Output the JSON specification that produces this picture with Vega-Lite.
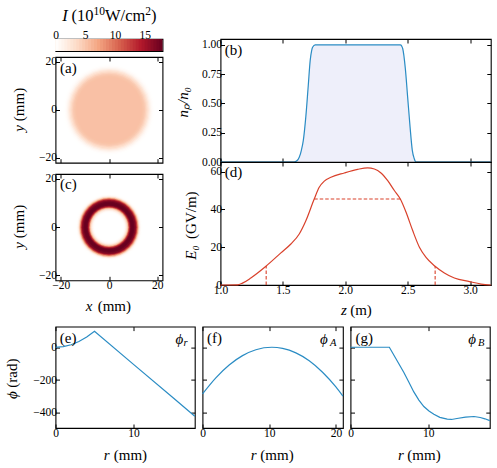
{
  "$schema": "https://vega.github.io/schema/vega-lite/v6.json",
  "background": "white",
  "padding": {"left": 3.5, "top": 4, "right": 0, "bottom": 0},
  "spacing": 6.6,
  "datasets": {
    "colorbar": [
      {"hi": 18, "I": 17.75}, {"hi": 17.5, "I": 17.25}, {"hi": 17, "I": 16.75}, {"hi": 16.5, "I": 16.25}, {"hi": 16, "I": 15.75}, {"hi": 15.5, "I": 15.25},
      {"hi": 15, "I": 14.75}, {"hi": 14.5, "I": 14.25}, {"hi": 14, "I": 13.75}, {"hi": 13.5, "I": 13.25}, {"hi": 13, "I": 12.75}, {"hi": 12.5, "I": 12.25},
      {"hi": 12, "I": 11.75}, {"hi": 11.5, "I": 11.25}, {"hi": 11, "I": 10.75}, {"hi": 10.5, "I": 10.25}, {"hi": 10, "I": 9.75}, {"hi": 9.5, "I": 9.25},
      {"hi": 9, "I": 8.75}, {"hi": 8.5, "I": 8.25}, {"hi": 8, "I": 7.75}, {"hi": 7.5, "I": 7.25}, {"hi": 7, "I": 6.75}, {"hi": 6.5, "I": 6.25},
      {"hi": 6, "I": 5.75}, {"hi": 5.5, "I": 5.25}, {"hi": 5, "I": 4.75}, {"hi": 4.5, "I": 4.25}, {"hi": 4, "I": 3.75}, {"hi": 3.5, "I": 3.25},
      {"hi": 3, "I": 2.75}, {"hi": 2.5, "I": 2.25}, {"hi": 2, "I": 1.75}, {"hi": 1.5, "I": 1.25}, {"hi": 1, "I": 0.75}, {"hi": 0.5, "I": 0.25}
    ],
    "disc": [
      {"x": 0, "y": 0, "r": 19, "I": 0.05}, {"x": 0, "y": 0, "r": 18.5, "I": 0.2}, {"x": 0, "y": 0, "r": 18, "I": 0.5}, {"x": 0, "y": 0, "r": 17.5, "I": 1}, {"x": 0, "y": 0, "r": 17, "I": 1.8},
      {"x": 0, "y": 0, "r": 16.5, "I": 2.7}, {"x": 0, "y": 0, "r": 16, "I": 3.5}, {"x": 0, "y": 0, "r": 15.5, "I": 4.2}, {"x": 0, "y": 0, "r": 15, "I": 4.8}, {"x": 0, "y": 0, "r": 14.5, "I": 5.1},
      {"x": 0, "y": 0, "r": 14, "I": 5.3}, {"x": 0, "y": 0, "r": 13.5, "I": 5.4}
    ],
    "ring": [
      {"x": 0, "y": 0, "r": 14, "I": 0.05}, {"x": 0, "y": 0, "r": 13.5, "I": 0.2}, {"x": 0, "y": 0, "r": 13.25, "I": 0.5}, {"x": 0, "y": 0, "r": 13, "I": 1}, {"x": 0, "y": 0, "r": 12.75, "I": 2.2}, {"x": 0, "y": 0, "r": 12.5, "I": 4}, {"x": 0, "y": 0, "r": 12.25, "I": 6.3},
      {"x": 0, "y": 0, "r": 12, "I": 9}, {"x": 0, "y": 0, "r": 11.75, "I": 11.6}, {"x": 0, "y": 0, "r": 11.5, "I": 14}, {"x": 0, "y": 0, "r": 11.25, "I": 15.8}, {"x": 0, "y": 0, "r": 11, "I": 17}, {"x": 0, "y": 0, "r": 10.5, "I": 17.8}, {"x": 0, "y": 0, "r": 10, "I": 18},
      {"x": 0, "y": 0, "r": 9.5, "I": 17.8}, {"x": 0, "y": 0, "r": 9, "I": 16.8}, {"x": 0, "y": 0, "r": 8.75, "I": 15}, {"x": 0, "y": 0, "r": 8.5, "I": 13}, {"x": 0, "y": 0, "r": 8.25, "I": 10}, {"x": 0, "y": 0, "r": 8, "I": 6.5}, {"x": 0, "y": 0, "r": 7.75, "I": 4.5},
      {"x": 0, "y": 0, "r": 7.5, "I": 3}, {"x": 0, "y": 0, "r": 7.25, "I": 2}, {"x": 0, "y": 0, "r": 7, "I": 1.2}, {"x": 0, "y": 0, "r": 6.75, "I": 0.6}, {"x": 0, "y": 0, "r": 6.5, "I": 0.3}, {"x": 0, "y": 0, "r": 6.25, "I": 0.1}, {"x": 0, "y": 0, "r": 6, "I": 0}
    ],
    "plasma": [
      {"z": 1.0, "n": 0}, {"z": 1.59, "n": 0}, {"z": 1.612, "n": 0.01}, {"z": 1.631, "n": 0.04}, {"z": 1.648, "n": 0.1}, {"z": 1.663, "n": 0.18}, {"z": 1.684, "n": 0.39},
      {"z": 1.703, "n": 0.65}, {"z": 1.719, "n": 0.87}, {"z": 1.73, "n": 0.95}, {"z": 1.738, "n": 0.98}, {"z": 1.759, "n": 1}, {"z": 2.441, "n": 1}, {"z": 2.452, "n": 0.99},
      {"z": 2.46, "n": 0.97}, {"z": 2.481, "n": 0.8}, {"z": 2.5, "n": 0.55}, {"z": 2.519, "n": 0.3}, {"z": 2.537, "n": 0.1}, {"z": 2.552, "n": 0.03}, {"z": 2.567, "n": 0}, {"z": 3.166, "n": 0}
    ],
    "field": [
      {"z": 1.0, "E": 0}, {"z": 1.136, "E": 0.1}, {"z": 1.176, "E": 1}, {"z": 1.243, "E": 3.7}, {"z": 1.364, "E": 9.9}, {"z": 1.484, "E": 17}, {"z": 1.564, "E": 21.7},
      {"z": 1.631, "E": 27}, {"z": 1.684, "E": 34}, {"z": 1.751, "E": 45.5}, {"z": 1.791, "E": 51.7}, {"z": 1.832, "E": 55}, {"z": 1.885, "E": 57}, {"z": 1.992, "E": 59.3},
      {"z": 2.099, "E": 61.2}, {"z": 2.179, "E": 62}, {"z": 2.233, "E": 61.4}, {"z": 2.286, "E": 59.3}, {"z": 2.34, "E": 55.2}, {"z": 2.393, "E": 50}, {"z": 2.441, "E": 45.5},
      {"z": 2.487, "E": 38.5}, {"z": 2.54, "E": 28.8}, {"z": 2.594, "E": 20}, {"z": 2.647, "E": 14.6}, {"z": 2.714, "E": 10.2}, {"z": 2.794, "E": 6.4}, {"z": 2.874, "E": 3.7},
      {"z": 2.995, "E": 1.8}, {"z": 3.088, "E": 0.5}, {"z": 3.166, "E": 0}
    ],
    "guides": [
      {"z": 1.751, "z2": 2.441, "E": 45.5, "E2": 45.5},
      {"z": 1.366, "z2": 1.366, "E": 0, "E2": 10},
      {"z": 2.72, "z2": 2.72, "E": 0, "E2": 10}
    ],
    "phiR": [
      {"r": 0, "phi": 0}, {"r": 1, "phi": 4}, {"r": 2, "phi": 15.5}, {"r": 3, "phi": 35}, {"r": 4, "phi": 62}, {"r": 5, "phi": 97}, {"r": 10, "phi": -104}, {"r": 15, "phi": -305}, {"r": 17.86, "phi": -420}
    ],
    "phiA": [
      {"r": 0, "phi": -284}, {"r": 2, "phi": -186}, {"r": 4, "phi": -108}, {"r": 6, "phi": -51}, {"r": 8, "phi": -15}, {"r": 10.4, "phi": 0}, {"r": 12, "phi": -7},
      {"r": 14, "phi": -34}, {"r": 16, "phi": -82}, {"r": 18, "phi": -152}, {"r": 20, "phi": -242}, {"r": 21.05, "phi": -298}
    ],
    "phiB": [
      {"r": 0, "phi": 0}, {"r": 5, "phi": 0}, {"r": 6, "phi": -82}, {"r": 6.87, "phi": -154}, {"r": 7.5, "phi": -212}, {"r": 8.15, "phi": -272}, {"r": 8.8, "phi": -322},
      {"r": 9.44, "phi": -361}, {"r": 10.1, "phi": -388}, {"r": 10.73, "phi": -408}, {"r": 11.5, "phi": -427}, {"r": 12.45, "phi": -438}, {"r": 13, "phi": -440},
      {"r": 13.7, "phi": -434}, {"r": 14.8, "phi": -426}, {"r": 15.9, "phi": -422}, {"r": 16.7, "phi": -428}, {"r": 17.3, "phi": -436}, {"r": 17.93, "phi": -447}
    ]
  },
  "vconcat": [
    {
      "spacing": 10,
      "hconcat": [
        {
          "spacing": 3,
          "vconcat": [
            {
              "width": 107,
              "height": 12,
              "resolve": {"axis": {"x": "independent", "y": "independent"}},
              "layer": [
                {
                  "data": {"name": "colorbar"},
                  "mark": {"type": "rect"},
                  "encoding": {
                    "x": {"field": "hi", "type": "quantitative", "scale": {"domain": [0, 18]},
                      "axis": {"orient": "top", "values": [0, 5, 10, 15], "labelPadding": 3, "title": null}},
                    "x2": {"datum": 0},
                    "y": {"datum": 0, "type": "quantitative", "scale": {"domain": [0, 1]}, "axis": null},
                    "y2": {"datum": 1},
                    "color": {"field": "I", "type": "quantitative", "legend": null,
                      "scale": {"interpolate": "rgb", "domain": [0, 3.6, 7.2, 10.8, 14.4, 18], "range": ["#ffffff", "#fddbc7", "#f4a582", "#d6604d", "#b2182b", "#67001f"]}}
                  }
                },
                {
                  "data": {"values": [{"x": 1.14, "y": 2.92, "label": "I"}]},
                  "mark": {"type": "text", "align": "left", "baseline": "middle", "font": "Liberation Serif", "fontStyle": "italic", "fontSize": 16.5},
                  "encoding": {
                    "x": {"field": "x", "type": "quantitative", "scale": {"domain": [0, 18]}, "axis": null},
                    "y": {"field": "y", "type": "quantitative", "scale": {"domain": [0, 1]}, "axis": null},
                    "text": {"field": "label"}
                  }
                },
                {
                  "data": {"values": [{"x": 2.69, "y": 2.92, "label": "(10"}, {"x": 8.33, "y": 2.92, "label": "W/cm"}, {"x": 16.07, "y": 2.92, "label": ")"}]},
                  "mark": {"type": "text", "align": "left", "baseline": "middle", "font": "Liberation Serif", "fontSize": 16.5},
                  "encoding": {
                    "x": {"field": "x", "type": "quantitative", "scale": {"domain": [0, 18]}, "axis": null},
                    "y": {"field": "y", "type": "quantitative", "scale": {"domain": [0, 1]}, "axis": null},
                    "text": {"field": "label"}
                  }
                },
                {
                  "data": {"values": [{"x": 6.39, "y": 3.29, "label": "10"}, {"x": 15.1, "y": 3.29, "label": "2"}]},
                  "mark": {"type": "text", "align": "left", "baseline": "middle", "font": "Liberation Serif", "fontSize": 11.5},
                  "encoding": {
                    "x": {"field": "x", "type": "quantitative", "scale": {"domain": [0, 18]}, "axis": null},
                    "y": {"field": "y", "type": "quantitative", "scale": {"domain": [0, 1]}, "axis": null},
                    "text": {"field": "label"}
                  }
                }
              ]
            },
            {
              "bounds": "flush",
              "spacing": 11,
              "vconcat": [
                {
                  "width": 107,
                  "height": 105.7,
                  "resolve": {"axis": {"x": "independent", "y": "independent"}},
                  "layer": [
                    {
                      "data": {"name": "disc"},
                      "mark": {"type": "point", "shape": "circle", "filled": true, "opacity": 1, "strokeWidth": 0},
                      "encoding": {
                        "x": {"field": "x", "type": "quantitative", "scale": {"domain": [-22.2, 22.2]}, "axis": {"values": [-20, 0, 20], "labels": false, "title": null}},
                        "y": {"field": "y", "type": "quantitative", "scale": {"domain": [-22, 22]}, "axis": {"values": [-20, 0, 20], "title": "(mm)", "titleX": -36.7, "titleY": 47}},
                        "size": {"field": "r", "type": "quantitative", "legend": null, "scale": {"type": "pow", "exponent": 2, "domain": [0, 22], "range": [0, 11236]}},
                        "color": {"field": "I", "type": "quantitative", "legend": null,
                          "scale": {"interpolate": "rgb", "domain": [0, 3.6, 7.2, 10.8, 14.4, 18], "range": ["#ffffff", "#fddbc7", "#f4a582", "#d6604d", "#b2182b", "#67001f"]}}
                      }
                    },
                    {
                      "data": {"values": [{"x": -20.3, "y": 17.5, "label": "(a)"}]},
                      "mark": {"type": "text", "align": "left", "baseline": "middle", "font": "Liberation Serif", "fontSize": 15},
                      "encoding": {
                        "x": {"field": "x", "type": "quantitative", "scale": {"domain": [-22.2, 22.2]}, "axis": {"orient": "top", "values": [-20, 0, 20], "labels": false, "title": null}},
                        "y": {"field": "y", "type": "quantitative", "scale": {"domain": [-22, 22]},
                          "axis": {"orient": "right", "values": [-20, 0, 20], "labels": false, "title": "y", "titleFontStyle": "italic", "titleX": -143.7, "titleY": 71}},
                        "text": {"field": "label"}
                      }
                    }
                  ]
                },
                {
                  "width": 107,
                  "height": 106.3,
                  "resolve": {"axis": {"x": "independent", "y": "independent"}},
                  "layer": [
                    {
                      "data": {"name": "ring"},
                      "mark": {"type": "point", "shape": "circle", "filled": true, "opacity": 1, "strokeWidth": 0},
                      "encoding": {
                        "x": {"field": "x", "type": "quantitative", "scale": {"domain": [-22.2, 22.2]}, "axis": {"values": [-20, 0, 20], "title": "(mm)", "titleX": 58.3, "titleY": 25}},
                        "y": {"field": "y", "type": "quantitative", "scale": {"domain": [-22, 22]}, "axis": {"values": [-20, 0, 20], "title": "(mm)", "titleX": -36.7, "titleY": 47}},
                        "size": {"field": "r", "type": "quantitative", "legend": null, "scale": {"type": "pow", "exponent": 2, "domain": [0, 22], "range": [0, 11236]}},
                        "color": {"field": "I", "type": "quantitative", "legend": null,
                          "scale": {"interpolate": "rgb", "domain": [0, 3.6, 7.2, 10.8, 14.4, 18], "range": ["#ffffff", "#fddbc7", "#f4a582", "#d6604d", "#b2182b", "#67001f"]}}
                      }
                    },
                    {
                      "data": {"values": [{"x": -20.3, "y": 17.7, "label": "(c)"}]},
                      "mark": {"type": "text", "align": "left", "baseline": "middle", "font": "Liberation Serif", "fontSize": 15},
                      "encoding": {
                        "x": {"field": "x", "type": "quantitative", "scale": {"domain": [-22.2, 22.2]},
                          "axis": {"orient": "top", "values": [-20, 0, 20], "labels": false, "title": "x", "titleFontStyle": "italic", "titleX": 33, "titleY": 131}},
                        "y": {"field": "y", "type": "quantitative", "scale": {"domain": [-22, 22]},
                          "axis": {"orient": "right", "values": [-20, 0, 20], "labels": false, "title": "y", "titleFontStyle": "italic", "titleX": -143.7, "titleY": 71}},
                        "text": {"field": "label"}
                      }
                    }
                  ]
                }
              ]
            }
          ]
        },
        {
          "bounds": "flush",
          "spacing": 0,
          "vconcat": [
            {
              "width": 270.3,
              "height": 123,
              "resolve": {"axis": {"x": "independent", "y": "independent"}},
              "layer": [
                {
                  "data": {"name": "plasma"},
                  "mark": {"type": "area", "color": "#eeeffa"},
                  "encoding": {
                    "x": {"field": "z", "type": "quantitative", "scale": {"domain": [1, 3.166]}, "axis": {"values": [1, 1.5, 2, 2.5, 3], "labels": false, "title": null}},
                    "y": {"field": "n", "type": "quantitative", "scale": {"domain": [0, 1.051]}, "axis": {"values": [0, 0.25, 0.5, 0.75, 1], "format": ".2f", "title": "nₚ/n₀", "titleFontStyle": "italic", "titleX": -38, "titleY": 62.7}}
                  }
                },
                {
                  "data": {"name": "plasma"},
                  "mark": {"type": "line", "color": "#2a8cc4", "strokeWidth": 1.2, "interpolate": "monotone"},
                  "encoding": {
                    "x": {"field": "z", "type": "quantitative", "scale": {"domain": [1, 3.166]}, "axis": null},
                    "y": {"field": "n", "type": "quantitative", "scale": {"domain": [0, 1.051]}, "axis": null}
                  }
                },
                {
                  "data": {"values": [{"x": 1.035, "y": 0.957, "label": "(b)"}]},
                  "mark": {"type": "text", "align": "left", "baseline": "middle", "font": "Liberation Serif", "fontSize": 15},
                  "encoding": {
                    "x": {"field": "x", "type": "quantitative", "scale": {"domain": [1, 3.166]}, "axis": {"orient": "top", "values": [1, 1.5, 2, 2.5, 3], "labels": false, "title": null}},
                    "y": {"field": "y", "type": "quantitative", "scale": {"domain": [0, 1.051]}, "axis": {"orient": "right", "values": [0, 0.25, 0.5, 0.75, 1], "labels": false, "title": null}},
                    "text": {"field": "label"}
                  }
                }
              ]
            },
            {
              "width": 270.3,
              "height": 123,
              "resolve": {"axis": {"x": "independent", "y": "independent"}},
              "layer": [
                {
                  "data": {"name": "field"},
                  "mark": {"type": "line", "color": "#d9412b", "strokeWidth": 1.2, "interpolate": "monotone"},
                  "encoding": {
                    "x": {"field": "z", "type": "quantitative", "scale": {"domain": [1, 3.166]}, "axis": {"values": [1, 1.5, 2, 2.5, 3], "format": ".1f", "title": "(m)", "titleX": 140, "titleY": 24}},
                    "y": {"field": "E", "type": "quantitative", "scale": {"domain": [0, 65.1]}, "axis": {"values": [0, 20, 40, 60], "title": "(GV/m)", "titleX": -30, "titleY": 52.7}}
                  }
                },
                {
                  "data": {"name": "guides"},
                  "mark": {"type": "rule", "color": "#d9412b", "strokeWidth": 1.1, "strokeDash": [3.5, 2]},
                  "encoding": {
                    "x": {"field": "z", "type": "quantitative", "scale": {"domain": [1, 3.166]}, "axis": null},
                    "x2": {"field": "z2"},
                    "y": {"field": "E", "type": "quantitative", "scale": {"domain": [0, 65.1]}, "axis": null},
                    "y2": {"field": "E2"}
                  }
                },
                {
                  "data": {"values": [{"x": 1.035, "y": 59.6, "label": "(d)"}]},
                  "mark": {"type": "text", "align": "left", "baseline": "middle", "font": "Liberation Serif", "fontSize": 15},
                  "encoding": {
                    "x": {"field": "x", "type": "quantitative", "scale": {"domain": [1, 3.166]},
                      "axis": {"orient": "top", "values": [1, 1.5, 2, 2.5, 3], "labels": false, "title": "z", "titleFontStyle": "italic", "titleX": 123, "titleY": 147}},
                    "y": {"field": "y", "type": "quantitative", "scale": {"domain": [0, 65.1]},
                      "axis": {"orient": "right", "values": [0, 20, 40, 60], "labels": false, "title": "E₀", "titleFontStyle": "italic", "titleX": -300.3, "titleY": 90}},
                    "text": {"field": "label"}
                  }
                }
              ]
            }
          ]
        }
      ]
    },
    {
      "bounds": "flush",
      "spacing": 7,
      "hconcat": [
        {
          "width": 139.3,
          "height": 101.4,
          "resolve": {"axis": {"x": "independent", "y": "independent"}},
          "layer": [
            {
              "data": {"name": "phiR"},
              "mark": {"type": "line", "color": "#2a8cc4", "strokeWidth": 1.2},
              "encoding": {
                "x": {"field": "r", "type": "quantitative", "scale": {"domain": [0, 17.86]}, "axis": {"values": [0, 10], "title": "(mm)", "titleX": 74.4, "titleY": 26}},
                "y": {"field": "phi", "type": "quantitative", "scale": {"domain": [-492, 126]}, "axis": {"values": [-400, -200, 0], "title": "(rad)", "titleX": -43.7, "titleY": 46}}
              }
            },
            {
              "data": {"values": [{"x": 0.55, "y": 59, "label": "(e)"}]},
              "mark": {"type": "text", "align": "left", "baseline": "middle", "font": "Liberation Serif", "fontSize": 15},
              "encoding": {
                "x": {"field": "x", "type": "quantitative", "scale": {"domain": [0, 17.86]},
                  "axis": {"orient": "top", "values": [0, 10], "labels": false, "title": "r", "titleFontStyle": "italic", "titleX": 50.7, "titleY": 127.4}},
                "y": {"field": "y", "type": "quantitative", "scale": {"domain": [-492, 126]},
                  "axis": {"orient": "right", "values": [-400, -200, 0], "labels": false, "title": "ϕ", "titleFontStyle": "italic", "titleX": -183, "titleY": 68}},
                "text": {"field": "label"}
              }
            },
            {
              "data": {"values": [{"x": 15.4, "y": 49, "label": "ϕ"}]},
              "mark": {"type": "text", "align": "left", "baseline": "middle", "font": "Liberation Serif", "fontStyle": "italic", "fontSize": 15},
              "encoding": {
                "x": {"field": "x", "type": "quantitative", "scale": {"domain": [0, 17.86]}, "axis": null},
                "y": {"field": "y", "type": "quantitative", "scale": {"domain": [-492, 126]}, "axis": null},
                "text": {"field": "label"}
              }
            },
            {
              "data": {"values": [{"x": 16.4, "y": 26, "label": "r"}]},
              "mark": {"type": "text", "align": "left", "baseline": "middle", "font": "Liberation Serif", "fontStyle": "italic", "fontSize": 10.5},
              "encoding": {
                "x": {"field": "x", "type": "quantitative", "scale": {"domain": [0, 17.86]}, "axis": null},
                "y": {"field": "y", "type": "quantitative", "scale": {"domain": [-492, 126]}, "axis": null},
                "text": {"field": "label"}
              }
            }
          ]
        },
        {
          "width": 140.4,
          "height": 101.4,
          "resolve": {"axis": {"x": "independent", "y": "independent"}},
          "layer": [
            {
              "data": {"name": "phiA"},
              "mark": {"type": "line", "color": "#2a8cc4", "strokeWidth": 1.2, "interpolate": "monotone"},
              "encoding": {
                "x": {"field": "r", "type": "quantitative", "scale": {"domain": [0, 21.05]}, "axis": {"values": [0, 10, 20], "title": "(mm)", "titleX": 74, "titleY": 26}},
                "y": {"field": "phi", "type": "quantitative", "scale": {"domain": [-492, 126]}, "axis": {"values": [-400, -200, 0], "labels": false, "title": null}}
              }
            },
            {
              "data": {"values": [{"x": 0.66, "y": 59, "label": "(f)"}]},
              "mark": {"type": "text", "align": "left", "baseline": "middle", "font": "Liberation Serif", "fontSize": 15},
              "encoding": {
                "x": {"field": "x", "type": "quantitative", "scale": {"domain": [0, 21.05]},
                  "axis": {"orient": "top", "values": [0, 10, 20], "labels": false, "title": "r", "titleFontStyle": "italic", "titleX": 50.7, "titleY": 127.4}},
                "y": {"field": "y", "type": "quantitative", "scale": {"domain": [-492, 126]}, "axis": {"orient": "right", "values": [-400, -200, 0], "labels": false, "title": null}},
                "text": {"field": "label"}
              }
            },
            {
              "data": {"values": [{"x": 17.6, "y": 49, "label": "ϕ"}]},
              "mark": {"type": "text", "align": "left", "baseline": "middle", "font": "Liberation Serif", "fontStyle": "italic", "fontSize": 15},
              "encoding": {
                "x": {"field": "x", "type": "quantitative", "scale": {"domain": [0, 21.05]}, "axis": null},
                "y": {"field": "y", "type": "quantitative", "scale": {"domain": [-492, 126]}, "axis": null},
                "text": {"field": "label"}
              }
            },
            {
              "data": {"values": [{"x": 19.1, "y": 26, "label": "A"}]},
              "mark": {"type": "text", "align": "left", "baseline": "middle", "font": "Liberation Serif", "fontStyle": "italic", "fontSize": 10.5},
              "encoding": {
                "x": {"field": "x", "type": "quantitative", "scale": {"domain": [0, 21.05]}, "axis": null},
                "y": {"field": "y", "type": "quantitative", "scale": {"domain": [-492, 126]}, "axis": null},
                "text": {"field": "label"}
              }
            }
          ]
        },
        {
          "width": 139.3,
          "height": 101.4,
          "resolve": {"axis": {"x": "independent", "y": "independent"}},
          "layer": [
            {
              "data": {"name": "phiB"},
              "mark": {"type": "line", "color": "#2a8cc4", "strokeWidth": 1.2},
              "encoding": {
                "x": {"field": "r", "type": "quantitative", "scale": {"domain": [0, 17.93]}, "axis": {"values": [0, 10], "title": "(mm)", "titleX": 73, "titleY": 26}},
                "y": {"field": "phi", "type": "quantitative", "scale": {"domain": [-492, 126]}, "axis": {"values": [-400, -200, 0], "labels": false, "title": null}}
              }
            },
            {
              "data": {"values": [{"x": 0.64, "y": 59, "label": "(g)"}]},
              "mark": {"type": "text", "align": "left", "baseline": "middle", "font": "Liberation Serif", "fontSize": 15},
              "encoding": {
                "x": {"field": "x", "type": "quantitative", "scale": {"domain": [0, 17.93]},
                  "axis": {"orient": "top", "values": [0, 10], "labels": false, "title": "r", "titleFontStyle": "italic", "titleX": 50, "titleY": 127.4}},
                "y": {"field": "y", "type": "quantitative", "scale": {"domain": [-492, 126]}, "axis": {"orient": "right", "values": [-400, -200, 0], "labels": false, "title": null}},
                "text": {"field": "label"}
              }
            },
            {
              "data": {"values": [{"x": 15.15, "y": 49, "label": "ϕ"}]},
              "mark": {"type": "text", "align": "left", "baseline": "middle", "font": "Liberation Serif", "fontStyle": "italic", "fontSize": 15},
              "encoding": {
                "x": {"field": "x", "type": "quantitative", "scale": {"domain": [0, 17.93]}, "axis": null},
                "y": {"field": "y", "type": "quantitative", "scale": {"domain": [-492, 126]}, "axis": null},
                "text": {"field": "label"}
              }
            },
            {
              "data": {"values": [{"x": 16.4, "y": 26, "label": "B"}]},
              "mark": {"type": "text", "align": "left", "baseline": "middle", "font": "Liberation Serif", "fontStyle": "italic", "fontSize": 10.5},
              "encoding": {
                "x": {"field": "x", "type": "quantitative", "scale": {"domain": [0, 17.93]}, "axis": null},
                "y": {"field": "y", "type": "quantitative", "scale": {"domain": [-492, 126]}, "axis": null},
                "text": {"field": "label"}
              }
            }
          ]
        }
      ]
    }
  ],
  "config": {
    "view": {"stroke": "#000000", "strokeWidth": 1.1},
    "axis": {
      "domain": false,
      "grid": false,
      "ticks": true,
      "tickSize": -4,
      "tickColor": "#000000",
      "tickWidth": 1,
      "labelFont": "Liberation Serif",
      "labelFontSize": 11.5,
      "labelColor": "#000000",
      "labelPadding": 3,
      "labelFlush": false,
      "labelOverlap": false,
      "titleFont": "Liberation Serif",
      "titleFontSize": 15,
      "titleFontWeight": "normal",
      "titleColor": "#000000",
      "titleAlign": "center",
      "titleBaseline": "middle"
    },
    "axisY": {"titleAngle": -90},
    "axisRight": {"titleAngle": -90}
  }
}
